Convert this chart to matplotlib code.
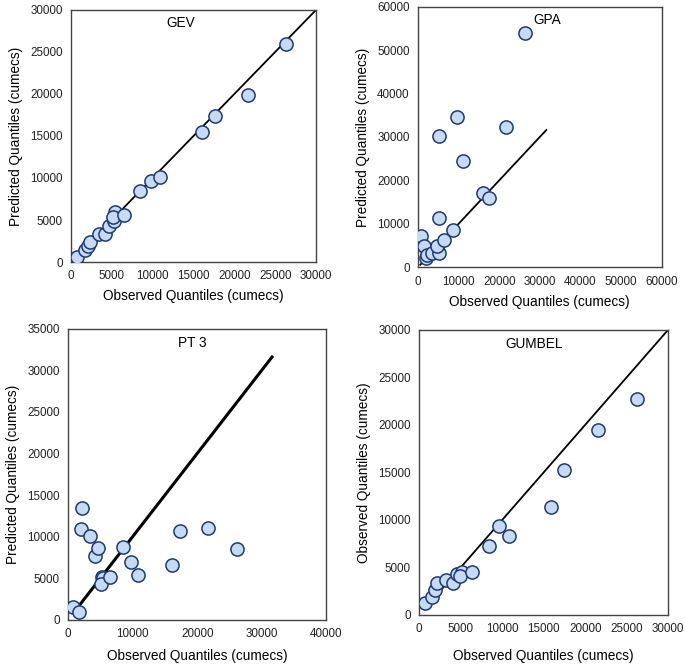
import numpy as np
import matplotlib.pyplot as plt

plt.rcParams['font.family'] = ['Liberation Sans', 'DejaVu Sans']

# GEV
gev_obs = [730, 1700, 2100, 2300, 3400, 4200, 4700, 5300, 5400, 5100, 6500,
           8500, 9800, 10900, 16100, 17600, 21700, 26300]
gev_pred = [600, 1470, 1860, 2400, 3300, 3300, 4300, 4900, 5900, 5400, 5600,
            8400, 9600, 10100, 15500, 17400, 19900, 25900]

# GPA
gpa_obs = [800, 1600, 2000, 2300, 3600, 5300, 4700, 6500, 8700, 5200, 5100,
           9700, 11000, 16100, 17500, 21700, 26400]
gpa_pred = [7100, 5000, 2100, 2800, 3300, 3300, 5000, 6300, 8500, 11400, 30200,
            34500, 24400, 17000, 15900, 32200, 54000]

# PT 3
pt3_obs = [720, 1650, 2200, 1960, 3400, 4200, 4700, 5200, 5400, 5060, 6460,
           8500, 9770, 10850, 16070, 17400, 21700, 26250]
pt3_pred = [1520, 960, 13460, 10900, 10050, 7700, 8700, 5200, 5100, 4370, 5200,
            8730, 6930, 5450, 6570, 10650, 11000, 8570]

# GUMBEL
gum_obs = [640, 1530, 1850, 2100, 3260, 4060, 4540, 5150, 4950, 6350, 8440,
           9600, 10800, 15900, 17400, 21550, 26200]
gum_pred = [1230, 1900, 2640, 3400, 3700, 3380, 4330, 4500, 4080, 4540, 7250,
            9360, 8270, 11400, 15270, 19450, 22700]

panels = [
    dict(name='GEV', x=gev_obs, y=gev_pred, line=(600, 30000), lw=1.3,
         pos=[0.1036, 0.606, 0.3577, 0.379], lim=(30000, 30000), step=(5000, 5000),
         ylabel='Predicted Quantiles (cumecs)', tx=0.45, xpad=5),
    dict(name='GPA', x=gpa_obs, y=gpa_pred, line=(600, 31600), lw=1.3,
         pos=[0.610, 0.598, 0.356, 0.392], lim=(60000, 60000), step=(10000, 10000),
         ylabel='Predicted Quantiles (cumecs)', tx=0.53, xpad=5),
    dict(name='PT 3', x=pt3_obs, y=pt3_pred, line=(1000, 31600), lw=2.2,
         pos=[0.0993, 0.0677, 0.377, 0.438], lim=(40000, 35000), step=(10000, 5000),
         ylabel='Predicted Quantiles (cumecs)', tx=0.48, xpad=6),
    dict(name='GUMBEL', x=gum_obs, y=gum_pred, line=(600, 30000), lw=1.3,
         pos=[0.612, 0.0752, 0.3635, 0.429], lim=(30000, 30000), step=(5000, 5000),
         ylabel='Observed Quantiles (cumecs)', tx=0.46, xpad=10),
]

fig = plt.figure(figsize=(6.85, 6.65), dpi=100)

for p in panels:
    ax = fig.add_axes(p['pos'])
    a, b = p['line']
    ax.plot([a, b], [a, b], color='black', lw=p['lw'], zorder=2)
    ax.scatter(p['x'], p['y'], s=90, facecolor='#c6daf3', edgecolor='#1f3a6e',
               linewidth=1.1, zorder=3)
    ax.set_xlim(0, p['lim'][0])
    ax.set_ylim(0, p['lim'][1])
    ax.set_xticks(np.arange(0, p['lim'][0] + 1, p['step'][0]))
    ax.set_yticks(np.arange(0, p['lim'][1] + 1, p['step'][1]))
    ax.tick_params(length=0, labelsize=8.4, pad=6, colors='#222222')
    for s in ax.spines.values():
        s.set_color('#444444')
        s.set_linewidth(1.0)
    ax.set_xlabel('Observed Quantiles (cumecs)', fontsize=9.8, labelpad=p['xpad'])
    ax.set_ylabel(p['ylabel'], fontsize=9.8, labelpad=5)
    ax.text(p['tx'], 0.975, p['name'], transform=ax.transAxes, ha='center',
            va='top', fontsize=9.8)

fig.savefig('out.png', dpi=100)
